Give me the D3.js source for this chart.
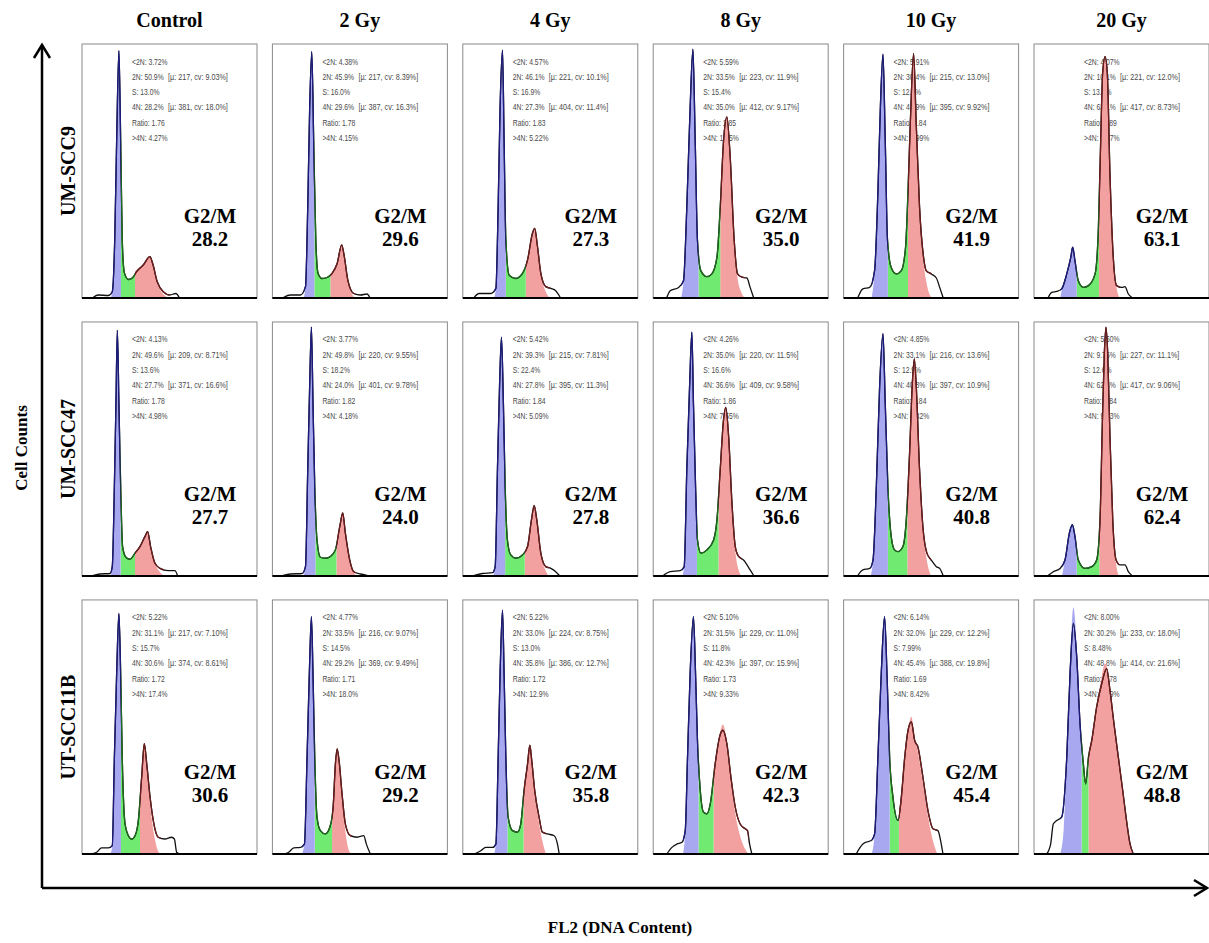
<!DOCTYPE html>
<html lang="en">
<head>
<meta charset="utf-8">
<title>Cell cycle histograms</title>
<script src="https://cdn.jsdelivr.net/npm/d3@7"></script>
<style>
  body { margin: 0; background: #fff; }
</style>
</head>
<body>
<script>
// columns / rows
var doses = ["Control", "2 Gy", "4 Gy", "8 Gy", "10 Gy", "20 Gy"];
var cellLines = ["UM-SCC9", "UM-SCC47", "UT-SCC11B"];

// panel stats, row by row (UM-SCC9, UM-SCC47, UT-SCC11B), left to right
var g2m     = ["28.2","29.6","27.3","35.0","41.9","63.1", "27.7","24.0","27.8","36.6","40.8","62.4", "30.6","29.2","35.8","42.3","45.4","48.8"];
var below2N = ["3.72","4.38","4.57","5.59","5.91","4.07", "4.13","3.77","5.42","4.26","4.85","5.60", "5.22","4.77","5.22","5.10","6.14","8.00"];
var pct2N   = ["50.9","45.9","46.1","33.5","30.4","10.1", "49.6","49.8","39.3","35.0","33.1","9.75", "31.1","33.5","33.0","31.5","32.0","30.2"];
var mu2N    = [217,217,221,223,215,221, 209,220,215,220,216,227, 217,216,224,229,229,233];
var cv2N    = ["9.03","8.39","10.1","11.9","13.0","12.0", "8.71","9.55","7.81","11.5","13.6","11.1", "7.10","9.07","8.75","11.0","12.2","18.0"];
var pctS    = ["13.0","16.0","16.9","15.4","12.7","13.1", "13.6","18.2","22.4","16.6","12.9","12.6", "15.7","14.5","13.0","11.8","7.99","8.48"];
var mu4N    = [381,387,404,412,395,417, 371,401,395,409,397,417, 374,369,386,397,388,414];
var cv4N    = ["18.0","16.3","11.4","9.17","9.92","8.73", "16.6","9.78","11.3","9.58","10.9","9.06", "8.61","9.49","12.7","15.9","19.8","21.6"];
var ratio   = ["1.76","1.78","1.83","1.85","1.84","1.89", "1.78","1.82","1.84","1.86","1.84","1.84", "1.72","1.71","1.72","1.73","1.69","1.78"];
var above4N = ["4.27","4.15","5.22","10.5","8.99","9.57", "4.98","4.18","5.09","7.55","8.42","9.63", "17.4","18.0","12.9","9.33","8.42","4.49"];

// histogram outlines: [FL2 channel, % of panel height]
var outlines = [
  [[65,0.3],[93,1.2],[150,1],[173,2.5],[187,23],[198,62],[211,97.4],[221,62],[230,23],[242,10],[265,7.3],[289,8],[312,10.4],[350,13],[388,16.3],[404,13.6],[430,6.4],[464,2.5],[502,1.2],[536,1.8],[555,0.3]],
  [[65,0.3],[103,1.2],[160,1.2],[189,4.5],[202,36],[213,75],[225,97],[236,62],[248,23],[261,9.7],[284,7.7],[312,8.1],[341,9.7],[370,13.6],[396,20.9],[411,16.3],[431,7.1],[465,1.8],[503,1.2],[541,1.6],[556,0.3]],
  [[65,0.3],[93,1.8],[160,1.8],[189,3.8],[202,36],[213,75],[227,97.6],[236,62],[246,23],[265,9],[303,7.7],[341,9.7],[370,15],[398,25.5],[411,27.4],[427,20.2],[446,9.7],[474,4.5],[503,3.8],[531,2.9],[556,0.3]],
  [[78,0.3],[97,2.9],[145,4.2],[173,6.8],[192,35.8],[211,75],[227,98],[240,62],[253,22.6],[272,10.8],[307,8.4],[335,9.5],[364,16],[383,35.8],[402,62],[421,71.3],[440,55.5],[463,22.6],[482,9.5],[507,8.2],[535,7.9],[554,4.2],[573,0.3]],
  [[82,0.3],[110,3.6],[149,4.2],[177,10.8],[196,42],[210,75],[225,96],[238,62],[251,22.6],[272,12],[301,9.5],[330,10.8],[354,20],[368,42],[381,68.7],[400,96.3],[415,68.7],[434,35.8],[457,16],[472,10.8],[501,9.5],[530,7.9],[549,4.2],[568,0.3]],
  [[82,0.3],[101,2.2],[130,2.6],[158,3.6],[187,9.5],[210,16],[221,20],[234,14.7],[253,6.8],[282,4.2],[311,4.9],[349,9.5],[368,27.9],[381,62],[392,88.4],[406,95],[419,88.4],[434,49],[453,16],[472,4.9],[501,4.2],[520,4.5],[539,1.6],[558,0.3]],

  [[65,0.3],[103,0.8],[160,1],[173,3.7],[185,35.4],[194,68],[202,96.7],[211,68],[221,35.4],[232,11.6],[251,7.4],[274,6.6],[303,9],[331,11.6],[360,15.6],[375,17.5],[392,11.6],[417,5],[446,3],[493,2.1],[531,2.1],[545,0.3]],
  [[61,0.3],[103,0.8],[170,1],[189,3.7],[202,42],[213,75],[223,98],[232,68],[242,35.4],[255,14.2],[274,7.4],[303,7],[331,7.7],[360,10.3],[385,19.5],[402,24.8],[417,16.9],[442,6.3],[465,1.7],[503,0.8],[541,0.3]],
  [[65,0.3],[112,1],[170,1.3],[185,3.7],[198,42],[210,75],[221,94],[232,68],[242,35.4],[255,14.2],[274,8.3],[303,7],[341,8.3],[370,11.6],[392,22],[408,27.7],[423,22],[446,9],[474,3.7],[503,3],[531,1.7],[551,0.3]],
  [[59,0.3],[97,1.7],[154,2.1],[177,3.7],[192,42],[208,75],[221,96],[230,68],[242,35.4],[253,14.2],[272,9],[307,10.3],[345,14.2],[364,22],[383,42],[402,61.7],[415,66.4],[431,55],[450,28.8],[469,11.6],[488,7.7],[516,6.3],[554,2.4],[573,0.3]],
  [[82,0.3],[110,2.4],[149,3],[168,6.3],[187,35.4],[206,75],[225,95.4],[238,68],[253,35.4],[272,15.6],[291,10.3],[311,9.6],[339,11.6],[358,22],[377,48.5],[392,75],[404,85.5],[415,75],[434,42],[453,19.5],[476,9],[501,6.3],[530,3.7],[549,3],[568,0.3]],
  [[82,0.3],[110,1.7],[149,3],[177,6.3],[202,16.9],[219,20.2],[234,15.6],[253,6.3],[291,3],[330,3.7],[358,6.3],[377,22],[391,61.7],[402,88],[411,98],[421,88],[434,55],[450,22],[469,6.3],[491,4.4],[520,4.4],[539,1.7],[558,0.3]],

  [[46,0],[84,0.7],[112,2.4],[150,2.4],[173,3.3],[185,38],[198,71],[211,94.7],[221,71],[230,38],[246,11.8],[265,7.2],[284,5.9],[303,7.2],[322,13.2],[341,30.3],[356,43.4],[370,35.5],[389,22.4],[411,11.8],[436,6.6],[474,5.9],[512,6.6],[528,5.9],[541,0.7],[560,0]],
  [[65,0],[93,0.7],[122,2.4],[160,2.6],[183,3.9],[198,38],[211,71],[223,93.4],[232,71],[242,38],[255,14.5],[274,9.2],[303,7.9],[328,10.5],[347,18.4],[360,35.5],[370,41.4],[381,36.8],[398,23.7],[417,11.8],[446,7.2],[484,6.6],[522,7.2],[537,3.9],[560,0]],
  [[65,0],[103,1.3],[131,2.6],[170,2.6],[189,3.9],[202,38],[213,71],[227,96],[236,71],[246,38],[259,14.5],[284,9.2],[312,8.6],[331,11.8],[350,25],[370,35.5],[383,42.8],[394,36.8],[411,25],[436,14.5],[455,8.6],[484,7.9],[522,7.2],[541,3.9],[551,0]],
  [[78,0],[107,2.6],[135,3.9],[164,4.6],[183,9.2],[196,38],[211,71],[230,93.4],[242,71],[253,44.7],[269,25],[288,16.4],[307,15.8],[326,19.7],[354,35.5],[379,46],[398,48.7],[421,43.4],[444,30.3],[469,18.4],[497,11.8],[526,9.9],[539,9.2],[551,3.9],[564,0]],
  [[72,0],[110,3.9],[126,4.6],[158,5.3],[177,7.9],[196,38],[215,71],[234,93.4],[248,71],[263,38],[282,22.4],[311,13.2],[330,22.4],[349,38],[368,48.7],[387,52],[406,44.7],[425,42],[453,30.3],[482,17.1],[511,9.9],[539,9.2],[558,3.9],[568,0]],
  [[72,0],[95,3.9],[110,11.8],[130,13.2],[158,14.5],[187,38],[206,71],[225,90.8],[244,77.6],[263,51.3],[282,35.5],[295,27.6],[311,38],[330,44.7],[358,57.9],[387,67.1],[415,73],[434,64.5],[457,51.3],[482,38],[507,25],[526,14.5],[549,3.9],[568,0]]
];

// 2N (blue) fit
var blues = [
  [[165,0],[180,8],[187,23],[198,62],[211,97.4],[221,62],[230,23],[240,10]],
  [[178,0],[189,4.5],[202,36],[213,75],[225,97],[236,62],[248,23],[260,10]],
  [[178,0],[189,3.8],[202,36],[213,75],[227,97.6],[236,62],[246,23],[260,10]],
  [[160,0],[173,6.8],[192,35.8],[211,75],[227,98],[240,62],[253,22.6],[270,10]],
  [[160,0],[177,10.8],[196,42],[210,75],[225,96],[238,62],[251,22.6],[270,11]],
  [[150,0],[160,3.6],[187,9.5],[210,16],[221,20],[234,14.7],[253,6.8],[270,4]],
  [[163,0],[173,3.7],[185,35.4],[194,68],[202,96.7],[211,68],[221,35.4],[232,11.6]],
  [[176,0],[189,3.7],[202,42],[213,75],[223,98],[232,68],[242,35.4],[255,14]],
  [[172,0],[185,3.7],[198,42],[210,75],[221,94],[232,68],[242,35.4],[255,14]],
  [[165,0],[177,3.7],[192,42],[208,75],[221,96],[230,68],[242,35.4],[253,14.2]],
  [[155,0],[168,6.3],[187,35.4],[206,75],[225,95.4],[238,68],[253,35.4],[272,15.6]],
  [[160,0],[177,6.3],[202,16.9],[219,20.2],[234,15.6],[253,6.3]],
  [[163,0],[173,3.3],[185,38],[198,71],[211,94.7],[221,71],[230,38],[246,11.8]],
  [[168,0],[183,3.9],[198,38],[211,71],[223,93.4],[232,71],[242,38],[255,14.5]],
  [[178,0],[189,3.9],[202,38],[213,71],[227,96],[236,71],[246,38],[259,14.5]],
  [[170,0],[183,9.2],[196,38],[211,71],[230,93.4],[242,71],[253,44.7],[269,25]],
  [[160,0],[177,7.9],[196,38],[215,71],[234,93.4],[248,71],[263,38],[282,22]],
  [[150,0],[170,10],[187,38],[206,75],[225,97],[244,82],[263,51],[282,35]]
];

// 4N (red) fit
var reds = [
  [[290,5],[303,10.4],[350,13],[388,16.3],[404,13.6],[430,6],[465,1.5],[500,0]],
  [[320,5],[331,9.2],[341,9.7],[370,13.6],[396,20.9],[411,16.3],[431,7.1],[455,1.5],[475,0]],
  [[345,5],[360,12.6],[370,15],[398,25.5],[411,27.4],[427,20.2],[446,9.7],[474,2.5],[500,0]],
  [[370,20],[383,35.8],[402,62],[421,71.3],[440,55.5],[463,22.6],[482,8],[505,2],[525,0]],
  [[355,25],[368,42],[381,68.7],[400,96.3],[415,68.7],[434,35.8],[457,14],[480,4],[505,0]],
  [[360,15],[371,36],[381,62],[392,88.4],[406,95],[419,88.4],[434,49],[453,16],[472,4],[490,0]],
  [[290,5],[303,9],[331,11.6],[360,15.6],[375,17.5],[392,11.6],[417,5],[446,1.5],[470,0]],
  [[355,6],[366,12.5],[385,19.5],[402,24.8],[417,16.9],[442,6],[465,1.5],[480,0]],
  [[340,5],[354,9.5],[370,11.6],[392,22],[408,27.7],[423,22],[446,9],[474,2],[495,0]],
  [[360,20],[373,30],[383,42],[402,61.7],[415,66.4],[431,55],[450,28.8],[469,10],[490,2],[505,0]],
  [[350,15],[364,30],[377,48.5],[392,75],[404,85.5],[415,75],[434,42],[453,19.5],[476,6],[500,0]],
  [[360,5],[373,18],[391,61.7],[402,88],[411,98],[421,88],[434,55],[450,22],[469,5],[485,0]],
  [[320,10],[331,18.5],[341,30.3],[356,43.4],[370,35.5],[389,20],[411,8],[436,1],[450,0]],
  [[330,8],[341,14],[347,18.4],[360,35.5],[370,41.4],[381,36.8],[398,23],[417,9],[440,1],[455,0]],
  [[335,8],[347,23],[370,35.5],[383,42.8],[394,36.8],[411,25],[436,12],[455,5],[475,0]],
  [[330,15],[345,30],[354,35.5],[379,47],[398,51],[421,44],[444,30],[469,16],[497,7],[525,2],[545,0]],
  [[300,8],[316,15.6],[330,25],[349,38],[368,48.7],[387,54],[406,46],[425,40],[453,28],[482,15],[511,5],[535,0]],
  [[295,18],[311,38],[330,46],[358,58],[387,70],[405,75],[415,74],[434,64.5],[457,51],[482,38],[507,24],[526,13],[549,3],[565,0]]
];

// S phase region [start, end] in channels
var sRange = [
  [223,303],[240,331],[246,360],[259,383],[253,368],[244,371],
  [221,303],[246,366],[242,354],[250,373],[253,364],[244,373],
  [223,331],[242,341],[255,347],[259,345],[263,316],[272,311]
];

var width = 1209, height = 943;
var serif = "'Liberation Serif','Times New Roman',serif";
var sans = "'Liberation Sans',Arial,sans-serif";

var svg = d3.select("body").append("svg")
  .attr("width", width)
  .attr("height", height)
  .style("display", "block");

var colScale = d3.scaleBand().domain(doses).range([82, 1209]).paddingInner(0.081);
var rowScale = d3.scaleBand().domain(cellLines).range([44, 854]).paddingInner(0.086);
var pw = colScale.bandwidth(), ph = rowScale.bandwidth();

var x = d3.scaleLinear().domain([0, 1000]).range([0, pw]);
var y = d3.scaleLinear().domain([0, 100]).range([ph, 0]);

var area = d3.area()
  .x(function(d){ return x(d[0]); })
  .y0(ph)
  .y1(function(d){ return y(d[1]); })
  .curve(d3.curveMonotoneX);
var line = d3.line()
  .x(function(d){ return x(d[0]); })
  .y(function(d){ return y(d[1]); })
  .curve(d3.curveMonotoneX);

var defs = svg.append("defs");
function clipX(id, x0, x1){
  defs.append("clipPath").attr("id", id)
    .append("rect")
    .attr("x", x(x0)).attr("y", -5)
    .attr("width", Math.max(0, x(x1) - x(x0))).attr("height", ph + 10);
  return "url(#" + id + ")";
}

// column headers
svg.selectAll(".colhead")
  .data(doses)
  .enter().append("text")
  .attr("class", "colhead")
  .attr("x", function(d){ return colScale(d) + pw / 2; })
  .attr("y", 27)
  .attr("text-anchor", "middle")
  .style("font-family", serif)
  .style("font-weight", "bold")
  .style("font-size", "20px")
  .text(function(d){ return d; });

// row labels
svg.selectAll(".rowhead")
  .data(cellLines)
  .enter().append("text")
  .attr("class", "rowhead")
  .attr("transform", function(d){ return "translate(75," + (rowScale(d) + ph / 2) + ") rotate(-90)"; })
  .attr("text-anchor", "middle")
  .style("font-family", serif)
  .style("font-weight", "bold")
  .style("font-size", "20px")
  .text(function(d){ return d; });

cellLines.forEach(function(cl, r){
  doses.forEach(function(dose, c){
    var i = r * doses.length + c;
    var g = svg.append("g")
      .attr("transform", "translate(" + colScale(dose) + "," + rowScale(cl) + ")");

    // stats block (sits under the histogram)
    var stats = g.append("g").attr("transform", "translate(50,20.5)")
      .style("font-family", sans).style("font-size", "8.7px").style("fill", "#4a4a4a");
    var rowsTxt = [
      ["<2N: " + below2N[i] + "%", null],
      ["2N: " + pct2N[i] + "%", "[\u00b5: " + mu2N[i] + ", cv: " + cv2N[i] + "%]"],
      ["S: " + pctS[i] + "%", null],
      ["4N: " + g2m[i] + "%", "[\u00b5: " + mu4N[i] + ", cv: " + cv4N[i] + "%]"],
      ["Ratio: " + ratio[i], null],
      [">4N: " + above4N[i] + "%", null]
    ];
    rowsTxt.forEach(function(t, k){
      stats.append("text")
        .attr("transform", "translate(0," + (k * 15.3) + ") scale(0.78,1)")
        .text(t[0]);
      if (t[1]) {
        stats.append("text")
          .attr("transform", "translate(36," + (k * 15.3) + ") scale(0.83,1)")
          .text(t[1]);
      }
    });

    var s0 = sRange[i][0], r0 = sRange[i][1];
    var cBlue = clipX("cb" + i, 0, s0);
    var cGreen = clipX("cg" + i, s0, r0);
    var cRed = clipX("cr" + i, r0, 1000);

    g.append("path").datum(reds[i]).attr("d", area)
      .attr("clip-path", cRed).attr("fill", "#f2a0a0");
    g.append("path").datum(outlines[i]).attr("d", area)
      .attr("clip-path", cGreen).attr("fill", "#70ea70");
    g.append("path").datum(blues[i]).attr("d", area)
      .attr("clip-path", cBlue).attr("fill", "#a8a8f0");

    g.append("path").datum(outlines[i]).attr("d", line)
      .attr("fill", "none").attr("stroke", "#111").attr("stroke-width", 1.3);

    var bEnd = blues[i][0][0];
    var cBlueLine = clipX("cbl" + i, bEnd, s0);
    var cRedLine = clipX("crl" + i, r0, reds[i][reds[i].length - 1][0]);
    g.append("path").datum(outlines[i]).attr("d", line).attr("clip-path", cBlueLine)
      .attr("fill", "none").attr("stroke", "#1c1c7e").attr("stroke-width", 1.3);
    g.append("path").datum(outlines[i]).attr("d", line).attr("clip-path", cGreen)
      .attr("fill", "none").attr("stroke", "#1d6a1d").attr("stroke-width", 1.3);
    g.append("path").datum(outlines[i]).attr("d", line).attr("clip-path", cRedLine)
      .attr("fill", "none").attr("stroke", "#6e1c1c").attr("stroke-width", 1.3);

    // frame
    g.append("rect").attr("width", pw).attr("height", ph)
      .attr("fill", "none").attr("stroke", "#8a8a8a").attr("stroke-width", 1);
    g.append("line").attr("x1", 0).attr("x2", pw).attr("y1", ph).attr("y2", ph)
      .attr("stroke", "#000").attr("stroke-width", 2);

    // G2/M label
    var lab = g.append("g")
      .attr("text-anchor", "middle")
      .style("font-family", serif).style("font-weight", "bold").style("font-size", "20px");
    lab.append("text").attr("transform", "translate(128,179) scale(1.05,1)").text("G2/M");
    lab.append("text").attr("transform", "translate(128,202) scale(1.05,1)").text(g2m[i]);
  });
});

// big axes with open arrow heads
var ax = svg.append("g").attr("fill", "none").attr("stroke", "#000").attr("stroke-width", 2.5);
ax.append("line").attr("x1", 42).attr("y1", 888).attr("x2", 42).attr("y2", 45);
ax.append("path").attr("d", "M34,58 L42,45 L50,58");
ax.append("line").attr("x1", 42).attr("y1", 888).attr("x2", 1207).attr("y2", 888);
ax.append("path").attr("d", "M1194,880 L1207,888 L1194,896");

svg.append("text")
  .attr("transform", "translate(27,448) rotate(-90)")
  .attr("text-anchor", "middle")
  .style("font-family", serif).style("font-weight", "bold").style("font-size", "17px")
  .text("Cell Counts");
svg.append("text")
  .attr("x", 620).attr("y", 933)
  .attr("text-anchor", "middle")
  .style("font-family", serif).style("font-weight", "bold").style("font-size", "17px")
  .text("FL2 (DNA Content)");
</script>
</body>
</html>
